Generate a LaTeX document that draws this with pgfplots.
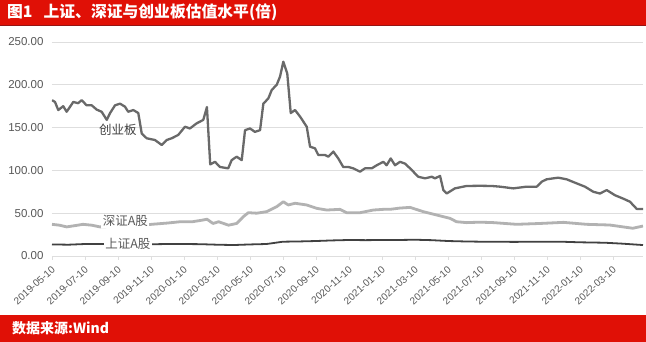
\documentclass[border=0pt]{standalone}
\usepackage{fontspec}
\setmainfont{Liberation Sans}
\newfontfamily\cjk{Noto Sans CJK SC}
\usepackage{pgfplots}
\pgfplotsset{compat=1.18}
\definecolor{hdr}{RGB}{224,16,6}
\definecolor{hdrdark}{RGB}{150,20,20}
\definecolor{labgray}{RGB}{89,89,89}
\definecolor{gridgray}{RGB}{222,222,222}
\definecolor{cyb}{RGB}{105,105,105}
\definecolor{sz}{RGB}{178,178,178}
\definecolor{sh}{RGB}{65,65,65}
\begin{document}
\begin{tikzpicture}[x=1pt,y=1pt]
\useasboundingbox (0,0) rectangle (646,342);
\fill[white] (0,0) rectangle (646,342);
\fill[hdr] (0,317) rectangle (646,342);
\fill[hdrdark] (0,315.5) rectangle (646,317);
\fill[hdr] (0,0) rectangle (646,27);
\node[anchor=west, text=white, font=\cjk\bfseries\fontsize{15.8}{15.8}\selectfont, inner sep=0] at (7,329.5) {图1\hspace{11pt}上证、深证与创业板估值水平(倍)};
\node[anchor=west, text=white, font=\cjk\bfseries\fontsize{14}{14}\selectfont, inner sep=0] at (12,13.5) {数据来源:Wind};
\begin{axis}[
  at={(52pt,86pt)}, anchor=south west,
  scale only axis, width=591pt, height=214pt,
  xmin=0, xmax=35.82, ymin=0, ymax=250,
  ytick={0,50,...,250},
  xtick={0,2,...,34},
  xticklabels={2019-05-10,2019-07-10,2019-09-10,2019-11-10,2020-01-10,2020-03-10,2020-05-10,2020-07-10,2020-09-10,2020-11-10,2021-01-10,2021-03-10,2021-05-10,2021-07-10,2021-09-10,2021-11-10,2022-01-10,2022-03-10},
  axis line style={draw=none},
  xtick pos=bottom, xtick align=outside, major tick length=4pt,
  xtick style={draw=gridgray, line width=0.8pt},
  ytick style={draw=none},
  ymajorgrids, grid style={draw=gridgray, line width=0.8pt},
  /pgf/number format/assume math mode=true,
  /pgf/number format/fixed, /pgf/number format/fixed zerofill, /pgf/number format/precision=2,
  yticklabel style={font=\fontsize{11.5}{11.5}\selectfont, text=labgray, xshift=-5pt},
  xticklabel style={rotate=42, anchor=north east, font=\fontsize{10}{10}\selectfont, text=labgray, xshift=-1pt},
]
% 深证A股
\addplot[sz, line width=2.8pt, line join=round] coordinates {
(0,37)(0.45,36)(0.89,34)(1.4,35.5)(1.88,37)(2.4,36)(2.91,34)(4,35)(5,35)(6.04,37)(7,38.5)(7.76,40)(8.5,40)(9.15,42)(9.39,43)(9.76,38)(10.10,40)(10.70,36)(11.19,38)(11.60,46)(11.90,50.6)(12.41,50)(13.01,51.8)(13.62,57.6)(14.02,63.4)(14.32,59.6)(14.73,61.6)(15.44,59.6)(16.04,55.7)(16.65,53.7)(17.45,54.5)(17.86,50.6)(18.67,50.6)(19.47,53.7)(20.08,54.5)(20.48,54.5)(21.09,56)(21.70,56.8)(22.50,51.8)(23.31,47.9)(24.12,44)(24.52,40)(25.13,39)(25.94,39.5)(26.75,39)(28.16,37)(29.58,38)(31.0,39.3)(32.4,37)(33.8,36.2)(35.2,32.4)(35.82,35)
};
% 上证A股
\addplot[sh, line width=1.8pt, line join=round] coordinates {
(0,13.5)(1,13.2)(2,14)(3,14)(4,13.5)(5,13.7)(6,13.7)(7,14)(8,14)(9,13.8)(10,13.2)(11,12.8)(12,13.5)(13,14)(14,16.7)(15,17)(16,17.5)(17,18.2)(18,18.7)(19,18.5)(20,18.7)(21,18.7)(22,19)(23,18.5)(24,17.5)(25,17)(26,16.7)(27,16.6)(28,16.5)(29,16.6)(30,16.7)(31,16.6)(32,16)(33.5,15.5)(34.5,14.5)(35.82,12.8)
};
\node[fill=white, inner sep=1.5pt, text=labgray, font=\cjk\fontsize{12.5}{12.5}\selectfont] at (axis cs:4.45,41) {深证A股};
\node[fill=white, inner sep=1.5pt, text=labgray, font=\cjk\fontsize{12.5}{12.5}\selectfont] at (axis cs:4.6,14) {上证A股};
% 创业板
\addplot[cyb, line width=2.3pt, line join=round] coordinates {
(0,182)(0.18,180)(0.38,170.5)(0.68,175)(0.89,168.5)(1.29,180)(1.58,178.5)(1.80,182)(2.10,176)(2.41,176)(2.71,171)(3.01,168.5)(3.32,159)(3.52,167)(3.82,176)(4.12,178)(4.42,174.5)(4.62,168.5)(4.93,170.5)(5.23,167)(5.44,143)(5.74,137.5)(6.24,135.5)(6.65,129.7)(6.95,135.5)(7.25,137.5)(7.65,141.4)(8.06,151)(8.36,149)(8.77,155)(9.17,159)(9.39,174)(9.59,107)(9.88,110)(10.18,104)(10.68,102.4)(10.89,112)(11.19,116)(11.50,112)(11.70,147)(12.00,149)(12.30,145)(12.61,147)(12.81,178)(13.11,184)(13.32,194)(13.62,200)(13.82,209.5)(14.02,227)(14.26,213)(14.47,167)(14.73,170.5)(15.03,163)(15.44,151)(15.64,127.7)(15.94,125.8)(16.14,118)(16.55,118)(16.75,116)(17.05,122)(17.35,114)(17.65,104)(17.96,104)(18.26,102.4)(18.67,98.5)(18.97,102.4)(19.38,102.4)(19.68,106)(20.08,110)(20.28,106)(20.53,114)(20.79,106)(21.09,110)(21.39,108)(21.70,102.4)(22.20,92.6)(22.61,90.7)(23.01,92.6)(23.21,90.7)(23.52,93.5)(23.72,77)(23.92,73)(24.42,79)(25.13,81.8)(25.94,82)(26.65,81.8)(27.15,81)(27.96,79)(28.77,81)(29.38,81)(29.68,86.8)(29.98,89.6)(30.68,91.5)(31.19,89.6)(31.70,85.6)(32.30,81)(32.81,75)(33.21,73)(33.62,77)(34.12,71)(34.62,67)(35.03,63.4)(35.44,55)(35.82,55)
};
\node[text=sh, font=\cjk\fontsize{12.5}{12.5}\selectfont] at (axis cs:4.0,147) {创业板};
\end{axis}
\end{tikzpicture}
\end{document}
